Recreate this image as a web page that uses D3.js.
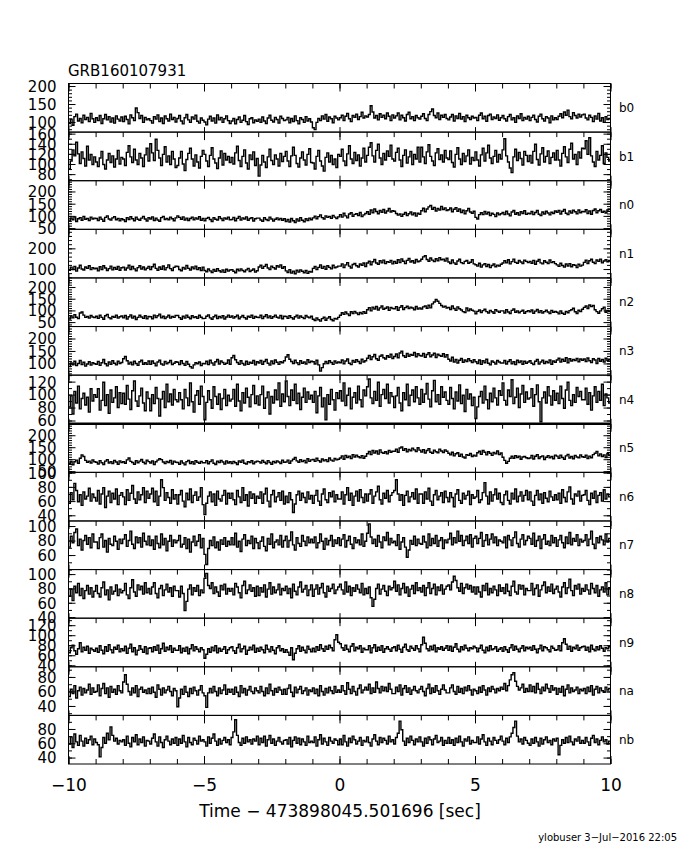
<!DOCTYPE html>
<html><head><meta charset="utf-8">
<script src="https://cdn.jsdelivr.net/npm/d3@7"></script>
<style>
body{margin:0;background:#fff;}
svg text{font-family:"DejaVu Sans",sans-serif;font-weight:400;fill:#000;}
</style></head><body>
<svg id="chart" width="680" height="850"></svg>
<script>
const title = "GRB160107931";
const xLabel = "Time \u2212 473898045.501696 [sec]";
const footer = "ylobuser  3\u2212Jul\u22122016 22:05";
const detectors = ["b0","b1","n0","n1","n2","n3","n4","n5","n6","n7","n8","n9","na","nb"];
const timeRange = [-10, 10];
const binsPerSecond = 15;
const xTickLabels = [-10, -5, 0, 5, 10];
const yDomains = [[72,207],[67,163],[45,244],[57,292],[31,239],[53,248],[55,130],[45,248],[32,100.5],[40,107],[38.5,106.3],[37,134],[27,94],[31,99]];
const yLabelTicks = [[100,150,200],[80,100,120,140,160],[50,100,150,200],[100,200],[50,100,150,200],[100,150,200],[60,80,100,120],[50,100,150,200],[40,60,80,100],[60,80,100],[40,60,80,100],[40,60,80,100,120],[40,60,80],[40,60,80]];
const yMinorSteps = [10,10,10,20,10,10,10,10,10,10,10,10,10,10];

const b0 = [
96,108,91,115,122,103,110,98,119,107,113,101,124,109,99, 112,104,118,96,109,121,106,115,100,111,97,117,108,103,114,
101,116,107,95,120,112,104,139,126,110,118,99,113,106,109, 104,97,115,108,120,101,111,96,117,109,103,122,107,113,100,
110,118,103,95,112,121,106,99,114,108,119,102,97,111,105, 100,92,108,116,103,111,97,120,106,113,99,109,117,104,96,
103,110,95,107,114,99,105,118,101,93,109,112,98,106,102, 108,99,114,103,96,111,119,105,100,113,107,97,116,110,104,
106,113,98,110,101,117,104,95,112,107,99,115,103,109,100, 84,79,99,110,104,117,108,121,102,114,109,98,116,111,106,
112,119,104,116,124,109,101,118,113,122,107,115,127,111,117, 114,121,145,128,111,118,106,123,113,119,109,125,116,104,120,
111,117,125,106,119,112,103,121,127,109,115,104,118,112,108, 116,123,110,104,121,129,136,118,112,125,107,119,113,121,110,
106,114,121,103,117,110,124,108,115,101,119,112,107,116,111, 113,104,119,125,109,116,102,118,122,107,114,110,120,105,112,
118,109,103,115,121,106,112,99,117,110,123,104,113,108,116, 104,113,119,107,100,116,122,109,103,115,111,98,117,106,112,
107,116,123,112,128,119,133,115,109,126,118,111,122,114,120, 122,111,106,119,113,101,117,108,124,103,112,99,115,107,110];
const b1 = [
90,106,128,116,143,120,101,124,111,96,135,108,119,99,114, 104,95,112,125,99,90,108,121,103,116,94,110,127,100,113,
110,97,123,136,114,103,129,108,99,121,112,95,118,131,106, 140,122,107,149,127,112,97,119,134,104,116,99,125,110,93,
97,112,125,100,87,109,121,131,110,96,118,104,92,115,127, 119,106,95,117,132,110,102,91,112,126,98,121,108,115,103,
113,100,122,135,107,95,115,128,102,90,118,109,124,97,111, 76,98,117,104,93,114,129,107,99,118,110,96,121,105,115,
125,106,95,116,133,117,101,94,112,124,108,98,119,130,103, 102,90,115,127,106,96,86,113,122,104,117,99,110,93,119,
115,129,106,97,120,136,110,101,123,107,118,96,112,131,104, 117,133,142,116,104,127,139,112,99,121,108,126,115,137,110,
106,123,131,108,95,117,128,102,114,125,99,119,110,133,104, 133,114,101,124,138,115,106,97,122,130,109,118,104,127,112,
109,126,103,94,119,132,110,99,121,105,116,128,100,113,107, 124,108,96,118,131,106,122,137,112,101,115,127,104,119,110,
128,150,116,104,92,83,114,129,107,123,111,98,125,117,105, 117,102,125,139,109,98,120,132,104,115,126,101,113,122,108,
127,108,96,121,134,114,103,129,141,110,119,99,124,112,131, 130,146,119,152,116,104,95,125,108,117,136,101,122,113,106];
const n0 = [
79,92,84,96,77,88,93,82,98,86,90,81,95,87,91, 89,81,95,86,78,94,100,87,83,92,97,84,90,80,88,
84,77,93,85,97,88,80,95,86,82,91,98,87,79,93, 87,96,81,91,83,78,93,98,85,90,84,95,88,80,92,
100,94,86,96,83,91,81,89,95,84,92,87,97,82,90, 80,90,94,85,77,93,86,83,97,89,81,92,87,95,84,
85,94,80,90,98,83,92,87,96,82,89,93,79,88,91, 91,83,78,93,85,81,95,87,79,86,92,84,90,82,88,
77,85,75,89,80,73,87,79,93,82,76,88,81,91,84, 92,99,88,97,104,93,87,100,94,98,90,102,95,89,96,
105,95,111,100,92,108,113,98,106,109,101,114,97,104,110, 117,107,124,113,128,118,109,122,115,126,112,120,130,116,121,
119,110,103,108,98,107,114,101,109,116,104,112,99,111,106, 121,131,117,128,137,143,127,135,120,130,124,139,126,133,122,
125,132,117,127,134,119,128,114,123,109,121,130,116,111,119, 94,87,105,113,105,118,108,115,101,111,106,97,112,104,109,
114,105,119,108,100,116,122,107,113,103,117,110,121,106,111, 109,118,105,114,122,107,101,116,108,119,112,104,115,110,120,
115,122,108,119,126,111,105,120,112,123,117,109,124,113,118, 117,125,110,120,107,122,128,113,121,126,115,119,112,124,127];
const n1 = [
94,109,98,113,90,105,118,100,95,110,103,116,97,107,101, 104,91,111,97,116,105,93,102,114,96,108,99,112,94,106,
109,95,105,118,98,112,101,92,107,116,100,110,96,104,113, 97,111,123,103,94,110,99,115,96,107,120,102,93,108,114,
112,98,92,108,100,117,103,95,110,101,114,97,106,93,109, 93,87,100,91,83,98,89,102,92,86,96,84,99,90,95,
97,89,82,99,91,101,93,87,96,103,88,94,100,85,92, 110,118,103,113,122,105,97,114,107,100,116,109,120,104,111,
91,83,97,80,90,77,94,85,96,89,82,93,79,88,86, 103,112,97,108,120,103,113,99,116,108,101,118,106,110,114,
114,125,107,120,131,114,105,122,127,116,110,124,118,129,112, 129,138,121,135,146,129,123,140,130,143,126,136,132,141,125,
137,128,145,131,149,138,126,142,151,134,140,129,146,135,139, 147,159,164,146,138,153,143,136,150,140,155,145,148,139,152,
134,127,144,130,123,139,147,131,126,137,141,128,133,145,125, 121,114,128,109,120,126,112,122,107,117,124,111,119,115,123,
129,140,130,145,125,136,148,132,128,141,134,127,143,137,131, 137,128,142,123,138,146,130,125,140,133,127,144,131,136,126,
120,113,128,117,109,124,115,126,111,121,118,107,123,114,119, 132,143,127,140,147,133,126,144,137,148,130,139,145,135,141];
const n2 = [
63,76,68,82,71,65,89,93,80,70,74,67,78,72,69, 75,66,79,70,62,77,83,69,64,74,71,80,67,73,76,
68,78,63,73,81,67,75,61,70,79,72,66,77,64,74, 73,64,80,69,77,84,68,75,65,72,79,67,74,70,78,
78,69,62,75,67,80,71,64,77,69,73,66,79,71,65, 66,75,81,68,62,73,79,65,74,68,77,63,72,80,70,
76,67,73,80,64,72,78,69,63,75,70,79,66,74,71, 69,79,65,74,82,68,76,66,73,80,71,67,78,64,75,
74,66,77,69,63,73,79,67,76,70,65,78,72,68,75, 62,57,68,60,54,65,71,58,67,73,61,56,66,63,70,
79,90,83,93,85,78,94,87,96,89,82,91,86,95,88, 103,112,98,114,106,117,102,111,119,105,109,115,100,113,108,
107,116,101,113,120,104,112,118,108,114,110,103,117,106,111, 106,115,119,109,122,111,128,136,147,139,130,121,114,118,110,
113,104,119,108,100,115,107,102,95,91,110,98,106,101,97, 86,96,102,91,99,105,95,89,100,94,88,103,97,92,98,
98,89,103,93,87,100,106,92,98,90,96,101,88,95,99, 94,102,88,97,104,91,99,89,95,101,93,87,100,92,96,
92,85,98,88,83,96,90,99,103,109,94,87,101,95,105, 113,119,108,123,116,121,103,95,88,98,107,114,92,100,96];
const n3 = [
87,102,94,109,91,100,112,95,105,89,98,107,93,103,99, 97,108,92,103,116,99,90,106,96,111,101,94,109,100,104,
119,128,111,98,105,94,109,100,92,107,113,97,103,96,110, 96,110,101,90,106,113,98,93,108,99,104,112,95,101,107,
105,95,111,100,92,108,97,87,81,94,103,99,106,91,100, 99,109,95,113,102,93,107,116,98,110,104,96,101,114,97,
123,132,115,104,97,111,100,93,109,96,105,101,112,94,107, 102,112,97,108,116,101,93,110,99,114,105,96,107,103,111,
126,135,117,108,100,113,103,95,111,101,106,98,115,104,109, 107,98,113,94,69,83,99,108,100,111,104,96,110,102,106,
103,114,99,110,118,101,95,112,105,115,108,100,117,106,111, 121,132,116,127,136,119,113,129,134,123,118,131,125,137,120,
128,138,123,142,149,131,125,140,129,136,133,144,127,139,132, 130,140,125,136,143,127,134,141,124,137,132,129,139,126,135,
117,110,125,106,116,102,113,120,105,114,108,119,111,104,115, 107,100,114,96,111,103,117,101,94,110,105,98,112,106,102,
102,112,98,108,115,99,107,95,113,104,110,97,109,101,106, 111,101,95,109,116,98,106,113,100,108,103,114,97,110,105,
114,121,106,117,109,123,103,119,110,116,112,120,107,118,113, 118,108,122,111,104,119,114,100,120,109,116,106,121,112,115];
const n4 = [
81,98,70,105,87,113,78,94,102,84,96,73,109,90,100, 96,109,76,91,119,83,100,71,107,88,95,112,80,103,86,
102,85,114,93,77,106,121,90,82,98,110,87,75,104,94, 75,100,86,111,94,67,93,105,80,116,89,101,84,108,92,
89,103,92,78,108,95,83,118,89,73,99,106,85,113,97, 61,88,106,92,79,112,97,85,101,77,94,108,83,99,90,
93,108,82,116,90,75,103,87,110,96,81,100,114,86,98, 84,100,113,79,95,104,70,97,87,107,92,118,82,101,89,
121,97,83,107,91,116,86,102,77,96,110,88,104,93,99, 88,105,72,98,111,81,95,61,100,85,108,92,76,103,94,
106,90,118,83,99,110,78,96,103,87,113,92,81,107,98, 112,124,95,86,105,91,119,82,100,108,94,116,87,103,97,
80,98,111,87,75,103,92,116,83,99,107,89,112,95,85, 108,88,101,117,93,81,106,122,89,100,85,112,96,104,91,
85,111,94,78,104,90,115,86,99,74,108,93,101,83,96, 63,81,97,105,87,113,92,78,102,89,110,95,84,106,99,
118,91,84,107,97,123,86,96,110,80,101,114,88,104,93, 95,109,82,100,115,89,58,95,104,87,112,98,84,106,91,
102,86,113,94,79,107,119,91,83,100,88,111,97,105,92, 92,110,85,103,76,98,112,88,105,91,116,83,101,95,87];
const n5 = [
81,91,77,89,96,83,104,118,111,95,87,92,84,97,89, 87,80,94,85,78,92,98,84,90,82,95,88,79,93,86,
89,83,97,105,91,86,79,94,85,92,99,87,81,96,90, 84,93,78,89,96,102,98,88,82,91,86,95,80,92,87,
86,79,93,84,77,90,95,82,89,80,94,87,83,91,85, 85,94,81,90,97,83,78,92,86,95,88,80,93,84,89,
82,91,85,78,93,87,96,83,80,90,86,94,81,88,92, 90,84,95,87,81,94,86,79,91,85,93,88,82,96,87,
88,96,83,93,100,107,93,87,98,90,95,85,102,91,97, 99,91,104,94,88,101,93,98,90,105,96,92,103,97,100,
105,114,100,116,107,113,103,119,109,117,110,106,115,104,112, 123,132,119,136,126,134,121,139,128,125,131,122,137,129,133,
133,142,129,147,151,137,144,131,141,135,146,139,132,148,138, 130,140,126,136,144,129,125,138,131,127,142,134,128,139,133,
125,118,129,114,123,127,112,121,109,105,119,116,124,111,117, 113,127,133,120,136,129,118,131,125,116,128,122,134,119,126,
108,95,83,91,104,112,104,115,107,113,100,109,111,106,103, 105,116,101,112,119,103,110,114,99,108,115,106,111,102,117,
113,104,117,107,100,114,120,105,111,102,116,109,106,118,110, 108,117,103,113,106,119,125,132,114,122,111,118,107,124,116];
const n6 = [
57,72,62,85,75,59,69,54,73,63,67,78,60,70,65, 60,75,56,70,79,51,67,74,58,71,63,77,55,68,72,
66,55,76,61,71,82,63,57,73,62,69,79,58,74,64, 70,78,59,74,54,67,90,79,61,72,65,57,76,63,69,
56,69,75,60,52,71,62,77,58,68,73,61,66,79,55, 41,57,67,73,59,70,54,74,63,60,68,75,56,71,64,
71,62,55,75,66,58,79,61,69,53,73,64,70,57,67, 64,73,57,70,78,60,52,69,75,59,66,72,61,74,56,
67,58,72,62,44,56,69,74,61,71,65,58,73,63,68, 57,68,75,60,54,70,77,62,58,72,66,74,59,69,63,
63,73,56,69,79,61,71,54,67,74,60,76,65,58,70, 60,70,76,57,67,73,81,62,56,71,64,75,59,68,72,
75,90,70,61,69,54,68,74,59,66,72,63,77,57,70, 70,57,73,63,78,60,54,69,75,62,67,72,58,74,65,
59,72,65,52,70,76,61,57,71,63,68,74,55,69,64, 66,75,58,62,72,86,67,56,73,60,69,77,63,71,58,
55,69,74,61,56,71,63,77,59,67,73,60,68,75,62, 73,60,54,68,75,62,70,57,72,64,59,74,66,61,69,
62,71,57,76,65,59,73,80,63,56,70,67,74,60,68, 69,75,61,55,71,64,74,58,68,72,60,76,63,70,66];
const n7 = [
71,86,77,91,96,73,82,67,80,87,75,84,70,89,78, 78,69,84,89,71,80,64,83,75,73,86,79,68,82,76,
82,88,72,80,93,75,69,85,77,84,71,90,79,74,86, 73,81,68,86,76,70,89,74,83,66,79,87,72,81,77,
80,87,71,75,84,69,82,64,78,86,73,79,88,70,83, 61,47,69,80,73,85,70,78,67,81,75,84,72,79,74,
84,74,90,71,79,65,82,88,73,80,76,86,69,83,77, 69,79,85,72,66,83,75,89,70,78,81,74,87,71,80,
86,71,80,92,74,67,84,76,72,87,79,73,85,77,82, 77,85,70,77,89,79,68,83,74,80,87,72,81,76,84,
73,82,88,71,80,86,75,69,84,77,81,74,89,72,79, 90,103,85,76,82,72,87,78,70,85,80,91,74,83,77,
79,73,88,68,78,84,71,57,67,80,75,86,73,82,76, 75,86,78,70,89,73,83,76,87,72,80,84,69,81,77,
82,90,74,84,77,93,79,87,73,80,86,76,88,71,83, 86,76,83,91,72,80,88,74,82,89,77,85,73,81,79,
77,85,70,87,81,73,84,92,76,71,82,88,74,80,86, 83,75,90,72,80,86,69,82,88,75,79,73,87,77,84,
72,81,87,77,70,85,76,91,74,83,79,88,73,82,78, 80,88,73,82,93,75,69,84,77,86,81,74,89,78,83];
const n8 = [
69,79,63,83,74,87,70,80,66,77,84,72,81,68,76, 84,73,68,81,89,71,78,64,82,72,76,85,70,79,74,
77,87,71,66,81,92,75,69,85,78,83,72,88,74,80, 72,82,88,73,67,80,84,70,78,86,75,81,69,83,77,
77,68,83,73,49,62,79,85,71,81,76,84,70,78,74, 94,101,84,80,88,73,82,75,69,84,78,86,72,80,76,
80,71,87,82,74,67,84,90,73,78,85,76,81,69,83, 70,81,75,85,68,79,88,72,82,74,78,86,71,80,77,
83,73,80,67,86,76,71,82,89,75,79,84,70,78,85, 69,79,85,72,81,87,74,68,83,76,80,86,73,78,82,
86,78,72,89,75,83,70,81,76,85,79,74,87,71,80, 73,82,67,55,65,80,86,72,79,84,76,70,83,78,81,
90,76,85,71,80,87,74,82,69,79,84,73,88,77,81, 75,84,70,81,88,73,80,86,71,82,77,85,72,79,83,
85,78,89,97,91,81,76,87,73,81,86,79,84,75,82, 72,82,75,68,84,77,87,71,80,74,83,78,70,85,76,
81,73,86,76,70,83,90,75,72,85,79,84,71,80,77, 77,87,71,80,85,69,78,84,89,74,82,76,86,73,79,
83,75,68,82,88,73,81,93,77,70,84,79,86,72,80, 76,85,78,72,87,80,74,84,69,78,82,75,88,71,81];
const n9 = [
65,75,80,69,62,73,85,67,76,70,78,64,74,71,68, 74,66,79,70,63,77,68,81,71,65,76,72,80,67,73,
69,78,64,74,82,67,75,61,70,79,72,66,77,63,74, 75,67,77,70,80,64,73,84,68,76,71,79,66,74,70,
70,79,65,74,68,76,63,73,81,69,77,72,67,75,71, 54,62,73,66,76,69,79,65,74,68,72,77,64,71,75,
77,69,64,75,82,67,73,78,62,70,76,71,80,66,74, 68,76,71,65,80,72,67,77,70,63,75,79,69,73,66,
71,66,60,75,51,64,73,79,68,76,70,65,78,72,67, 74,67,77,70,81,73,68,78,72,80,75,69,91,101,86,
83,75,70,80,72,67,78,83,69,76,73,79,66,74,71, 71,79,65,75,81,68,76,70,79,66,73,77,72,68,75,
77,69,80,72,66,76,82,71,68,78,74,70,79,73,67, 81,96,84,73,69,78,71,80,67,75,72,77,70,74,79,
70,78,68,76,83,72,67,77,71,80,74,69,75,73,78, 75,67,74,80,70,65,76,69,79,71,73,77,68,72,75,
68,77,71,66,75,81,70,78,72,67,74,79,69,76,73, 76,70,79,72,65,73,80,69,77,75,71,67,78,74,70,
71,79,69,85,93,82,72,78,68,76,73,80,70,75,77, 78,70,76,67,80,72,69,77,71,79,74,68,75,73,77];
const na = [
53,63,57,68,51,61,66,55,64,58,62,70,56,65,59, 60,69,54,64,71,57,65,52,67,59,63,56,68,61,58,
73,83,70,60,55,65,58,68,53,63,66,59,62,57,64, 57,66,59,52,69,63,55,65,58,62,67,60,54,64,61,
39,51,63,56,67,59,53,64,57,66,61,55,62,68,58, 54,38,58,64,58,67,60,54,65,57,62,69,56,63,59,
63,56,66,59,53,68,58,64,55,62,67,60,57,65,61, 58,67,60,54,65,57,70,61,55,64,59,66,62,56,63,
56,64,69,59,53,66,58,63,67,57,61,65,55,62,60, 65,57,63,54,68,60,55,64,58,66,61,57,67,59,62,
59,68,61,56,72,63,57,67,60,55,64,69,58,62,66, 62,70,57,65,59,73,64,58,67,61,66,60,71,63,57,
57,66,60,69,55,64,68,59,65,56,62,67,61,58,63, 67,60,54,64,70,57,65,59,68,61,56,63,69,62,58,
58,65,69,60,56,67,59,64,57,66,61,68,62,55,63, 61,57,66,59,68,62,55,65,60,67,63,58,64,61,66,
63,71,61,68,76,83,86,74,67,62,65,70,59,64,60, 69,60,67,58,71,63,57,66,61,70,64,59,68,62,65,
56,64,59,67,54,63,69,58,65,60,62,66,57,63,61, 64,57,66,60,68,55,63,67,58,65,61,59,66,62,64];
const nb = [
59,69,54,73,62,57,71,63,56,67,60,65,70,58,66, 61,58,41,54,68,60,74,65,83,71,63,67,59,64,62,
65,57,70,60,55,68,62,72,58,66,61,69,56,64,63, 59,67,73,62,56,69,61,54,65,70,63,58,66,60,68,
57,66,60,71,62,55,68,61,58,67,64,59,70,63,65, 62,56,69,60,67,73,63,57,66,59,64,68,61,65,58,
68,76,93,71,61,57,67,60,69,62,65,59,66,63,70, 58,67,61,70,56,65,71,60,66,57,63,68,62,59,64,
65,59,68,55,64,69,60,67,58,66,62,57,70,61,63, 61,69,56,65,72,59,67,62,57,68,63,60,66,64,58,
66,58,71,62,56,67,61,70,65,59,63,68,57,64,62, 69,61,56,66,72,63,58,68,61,67,64,59,70,62,65,
59,68,74,91,79,63,57,67,61,70,64,58,66,62,69, 62,56,67,60,69,65,58,66,71,61,63,68,57,64,60,
68,60,65,57,67,61,70,62,56,66,63,69,59,64,61, 61,69,59,66,72,62,57,67,63,58,68,64,60,65,70,
63,58,67,61,69,74,82,91,70,62,66,59,68,64,60, 57,66,60,68,62,56,67,59,65,69,61,64,58,66,63,
67,44,57,65,60,68,61,70,62,58,66,63,69,60,64, 60,68,62,57,67,71,61,66,58,64,69,62,65,59,63];

const series = [b0,b1,n0,n1,n2,n3,n4,n5,n6,n7,n8,n9,na,nb];

// ---- layout ----
const pL = 68.5, pR = 610.5, pT = 83.5, pB = 764;
const nP = detectors.length;
const ph = (pB - pT) / nP;
const binWidth = 1 / binsPerSecond;

const svg = d3.select("#chart");
const x = d3.scaleLinear().domain(timeRange).range([pL, pR]);
const xMinor = d3.range(timeRange[0], timeRange[1] + 0.001, 1);
const xMajor = xTickLabels;

svg.append("text").attr("x", 68).attr("y", 76).attr("font-size", 15).text(title);

series.forEach((vals, i) => {
  const t = pT + i * ph, b = t + ph;
  const y = d3.scaleLinear().domain(yDomains[i]).range([b, t]);
  const g = svg.append("g");

  const clipId = "clip" + i;
  svg.append("clipPath").attr("id", clipId).append("rect")
    .attr("x", pL).attr("y", t).attr("width", pR - pL).attr("height", ph);

  const pts = vals.map((v, j) => [timeRange[0] + j * binWidth, v]);
  pts.push([timeRange[1], vals[vals.length - 1]]);
  const line = d3.line().x(d => x(d[0])).y(d => y(d[1])).curve(d3.curveStepAfter);
  g.append("path").attr("d", line(pts)).attr("fill", "none").attr("stroke", "#000")
    .attr("stroke-width", 1.4).attr("clip-path", `url(#${clipId})`);

  const [d0, d1] = yDomains[i];
  const st = yMinorSteps[i];
  const minors = d3.range(Math.ceil(d0 / st) * st, d1 + 0.001, st);
  svg.append("g").attr("transform", `translate(${pL},0)`)
    .call(d3.axisLeft(y).tickValues(minors).tickSize(-3.5).tickFormat(""));
  svg.append("g").attr("transform", `translate(${pR},0)`)
    .call(d3.axisRight(y).tickValues(minors).tickSize(-3.5).tickFormat(""));
  const ylM = svg.append("g").attr("transform", `translate(${pL},0)`)
    .call(d3.axisLeft(y).tickValues(yLabelTicks[i]).tickSize(-7).tickPadding(12).tickFormat(d3.format("d")));
  svg.append("g").attr("transform", `translate(${pR},0)`)
    .call(d3.axisRight(y).tickValues(yLabelTicks[i]).tickSize(-7).tickFormat(""));
  ylM.selectAll("text").attr("font-size", 15).attr("dy", "0.36em");

  svg.append("g").attr("transform", `translate(0,${t})`)
    .call(d3.axisTop(x).tickValues(xMinor).tickSize(-5).tickFormat(""));
  svg.append("g").attr("transform", `translate(0,${t})`)
    .call(d3.axisTop(x).tickValues(xMajor).tickSize(-8).tickFormat(""));
  const isLast = i === nP - 1;
  svg.append("g").attr("transform", `translate(0,${b})`)
    .call(d3.axisBottom(x).tickValues(isLast ? xMinor : xMajor).tickSize(-5).tickFormat(""));
  if (isLast) {
    const xb = svg.append("g").attr("transform", `translate(0,${b})`)
      .call(d3.axisBottom(x).tickValues(xMajor).tickSize(-8).tickPadding(15).tickFormat(d3.format("d")));
    xb.selectAll("text").attr("font-size", 17);
  }

  svg.append("text").attr("x", 619).attr("y", (t + b) / 2).attr("dy", "0.35em")
    .attr("font-size", 12).text(detectors[i]);
});

svg.selectAll(".domain").remove();
svg.selectAll(".tick line").attr("stroke", "#000").attr("stroke-width", 1);
svg.selectAll(".tick text").attr("fill", "#000").style("font-family", '"DejaVu Sans",sans-serif').style("font-weight", 400);

for (let i = 0; i < nP; i++) {
  const t = pT + i * ph;
  svg.append("rect").attr("x", pL).attr("y", t).attr("width", pR - pL).attr("height", ph)
    .attr("fill", "none").attr("stroke", "#000").attr("stroke-width", 1);
}
svg.append("line").attr("x1", pL).attr("x2", pR)
  .attr("y1", pT + 7 * ph).attr("y2", pT + 7 * ph).attr("stroke", "#000").attr("stroke-width", 2.5);

svg.append("text").attr("x", 340).attr("y", 817).attr("text-anchor", "middle")
  .attr("font-size", 17).text(xLabel);
svg.append("text").attr("x", 677).attr("y", 841).attr("text-anchor", "end")
  .attr("font-size", 10).text(footer);
</script>
</body></html>
